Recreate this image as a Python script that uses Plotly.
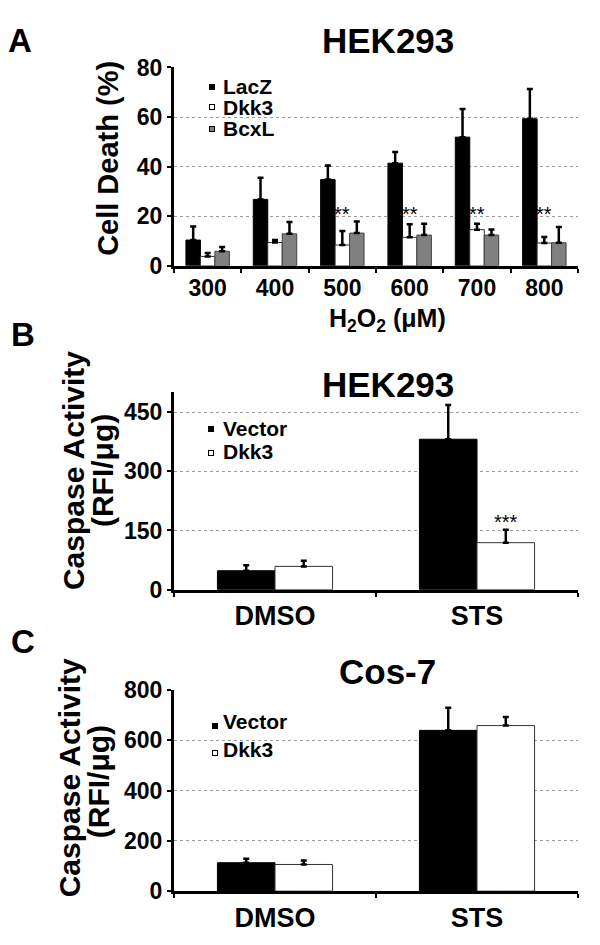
import plotly.graph_objects as go

# ---------------- data ----------------
# Panel A: HEK293, cell death (%) vs H2O2 (uM)
a_conc = ["300", "400", "500", "600", "700", "800"]
a_series = ["LacZ", "Dkk3", "BcxL"]
a_lacz = [10.4, 26.8, 34.8, 41.4, 51.9, 59.3]
a_lacz_err = [5.5, 8.7, 5.7, 4.5, 11.3, 12.0]
a_dkk3 = [3.8, 9.4, 8.4, 11.5, 14.6, 9.2]
a_dkk3_err = [1.4, 1.0, 5.7, 5.3, 2.4, 2.4]
a_bcxl = [5.9, 12.9, 13.2, 12.4, 12.4, 9.3]
a_bcxl_err = [1.7, 4.8, 4.7, 4.6, 2.3, 6.4]
a_star_cats = ["500", "600", "700", "800"]
a_star_y = [21.0, 21.0, 21.0, 21.0]
a_ticks = [0, 20, 40, 60, 80]

# Panel B: HEK293 caspase activity
b_cond = ["DMSO", "STS"]
b_series = ["Vector", "Dkk3"]
b_vector = [48, 381]
b_vector_err = [14, 87]
b_dkk3 = [59, 119]
b_dkk3_err = [14, 33]
b_star_cat = "STS"
b_star_y = 172
b_ticks = [0, 150, 300, 450]

# Panel C: Cos-7 caspase activity
c_cond = ["DMSO", "STS"]
c_series = ["Vector", "Dkk3"]
c_vector = [113, 639]
c_vector_err = [16, 90]
c_dkk3 = [106, 658]
c_dkk3_err = [16, 34]
c_ticks = [0, 200, 400, 600, 800]

FONT = "Liberation Sans, Arial, Helvetica, sans-serif"
BLACK = "#000000"
WHITE = "#ffffff"
GRAY = "#808080"
FILLS = {"LacZ": BLACK, "Vector": BLACK, "Dkk3": WHITE, "BcxL": GRAY}
EDGES = {"LacZ": BLACK, "Vector": BLACK, "Dkk3": "#333333", "BcxL": "#404040"}

W, H = 600, 945
def px_x(x):
    return x / W
def px_y(y):
    return 1 - y / H

fig = go.Figure()

def err(vals):
    return dict(type="data", symmetric=False, array=vals, arrayminus=[0] * len(vals),
                color=BLACK, thickness=2.5, width=3, visible=True)

def add_bars(xs, ys, es, name, xa, ya, **kw):
    fig.add_trace(go.Bar(x=xs, y=ys, name=name, error_y=err(es),
                         marker=dict(color=FILLS[name], line=dict(color=EDGES[name], width=1)),
                         showlegend=False, xaxis=xa, yaxis=ya, **kw))

# Panel A
add_bars(a_conc, a_lacz, a_lacz_err, "LacZ", "x", "y")
add_bars(a_conc, a_dkk3, a_dkk3_err, "Dkk3", "x", "y")
add_bars(a_conc, a_bcxl, a_bcxl_err, "BcxL", "x", "y")

# Panel B
add_bars(b_cond, b_vector, b_vector_err, "Vector", "x2", "y2", width=0.285, offset=-0.285)
add_bars(b_cond, b_dkk3, b_dkk3_err, "Dkk3", "x2", "y2", width=0.285, offset=0.0)

# Panel C
add_bars(c_cond, c_vector, c_vector_err, "Vector", "x3", "y3", width=0.285, offset=-0.285)
add_bars(c_cond, c_dkk3, c_dkk3_err, "Dkk3", "x3", "y3", width=0.285, offset=0.0)

xdom = [px_x(174), px_x(578)]
doms = {
    "A": [px_y(260), px_y(56)],
    "B": [px_y(593), px_y(390)],
    "C": [px_y(903), px_y(696)],
}

def xaxis(anchor, size, n):
    return dict(domain=xdom, anchor=anchor, type="category", range=[-0.5, n - 0.5],
                showline=True, linecolor=BLACK,
                linewidth=3, ticks="outside", tickson="boundaries", ticklen=4, tickwidth=2,
                tickcolor=BLACK, showgrid=False, zeroline=False, tickangle=0,
                tickfont=dict(size=size, color=BLACK, family=FONT, weight="bold"))

def yaxis(anchor, dom, rng, ticks):
    return dict(domain=dom, anchor=anchor, range=rng, tickvals=ticks, showline=True,
                linecolor=BLACK, linewidth=3, ticks="outside", ticklen=4, tickwidth=2,
                tickcolor=BLACK, showgrid=True, gridcolor="#9a9a9a", gridwidth=1,
                griddash="dot", zeroline=False,
                tickfont=dict(size=23, color=BLACK, family=FONT, weight="bold"))

fig.update_layout(
    width=W, height=H,
    margin=dict(l=0, r=0, t=0, b=0),
    paper_bgcolor=WHITE, plot_bgcolor=WHITE,
    font=dict(family=FONT, color=BLACK, weight="bold"),
    barmode="group", bargap=0.355, bargroupgap=0,
    xaxis=xaxis("y", 23, len(a_conc)),
    yaxis=yaxis("x", doms["A"], [0, 80], a_ticks),
    xaxis2=xaxis("y2", 27, len(b_cond)),
    yaxis2=yaxis("x2", doms["B"], [0, 500], b_ticks),
    xaxis3=xaxis("y3", 27, len(c_cond)),
    yaxis3=yaxis("x3", doms["C"], [0, 800], c_ticks),
    showlegend=False,
)

ann = []
def text(x, y, s, size, angle=0, weight="bold", xref="paper", yref="paper", xshift=0,
         xanchor="center"):
    ann.append(dict(x=x, y=y, xref=xref, yref=yref, text=s, showarrow=False,
                    xanchor=xanchor, yanchor="middle", textangle=angle, xshift=xshift,
                    font=dict(size=size, color=BLACK, family=FONT, weight=weight)))

def key(x, y, name):
    # small square legend key
    ann.append(dict(x=px_x(x), y=px_y(y), xref="paper", yref="paper", text=" ",
                    showarrow=False, xanchor="center", yanchor="middle",
                    width=4, height=4, borderpad=0, borderwidth=1,
                    bordercolor=BLACK, bgcolor=FILLS[name], font=dict(size=2)))

# panel letters
text(px_x(20), px_y(28), "A", 33)
text(px_x(23), px_y(331), "B", 33)
text(px_x(23), px_y(646), "C", 33)
# titles
text(px_x(388), px_y(28), "HEK293", 35)
text(px_x(388), px_y(382), "HEK293", 35)
text(px_x(388), px_y(677), "Cos-7", 35)
# axis titles
text(px_x(108), px_y(150), "Cell Death (%)", 29, angle=-90)
text(px_x(387), px_y(316), "H<sub>2</sub>O<sub>2</sub> (μM)", 25)
text(px_x(73), px_y(471), "Caspase Activity", 30, angle=-90)
text(px_x(102), px_y(471), "(RFI/μg)", 30, angle=-90)
text(px_x(69), px_y(787), "Caspase Activity", 30, angle=-90)
text(px_x(98), px_y(791), "(RFI/μg)", 30, angle=-90)

# legends (key square + label)
for name, ty in zip(a_series, [76, 97, 119]):
    key(212, ty, name)
    text(px_x(221), px_y(ty), name, 21, xanchor="left")
for name, ty in zip(b_series, [427, 451]):
    key(211, ty + 1, name)
    text(px_x(221), px_y(ty), name, 21, xanchor="left")
for name, ty in zip(c_series, [729, 757]):
    key(215, ty + 4, name)
    text(px_x(221), px_y(ty), name, 21, xanchor="left")

# significance stars
for c, yv in zip(a_star_cats, a_star_y):
    text(a_conc.index(c), yv, "**", 20, weight="normal", xref="x", yref="y")
text(b_cond.index(b_star_cat), b_star_y, "***", 20, weight="normal", xref="x2", yref="y2",
     xshift=29)

fig.update_layout(annotations=ann)
fig.write_html("out.html", config={"displayModeBar": False},
               post_script="document.body.style.margin='0';document.body.style.overflow='hidden';")
